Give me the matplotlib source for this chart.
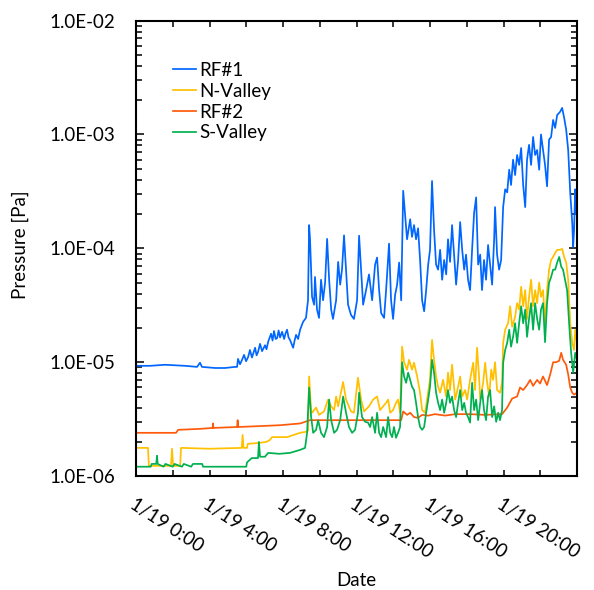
import matplotlib
matplotlib.use("Agg")
import matplotlib.pyplot as plt
from matplotlib.ticker import LogLocator, FuncFormatter, NullFormatter

# readings: (hours after 1/19 0:00, pressure in Pa)
rf1 = [
    (0.00, 9.3e-6), (0.76, 9.3e-6), (1.58, 9.5e-6), (2.67, 9.3e-6), (3.32, 9.1e-6),
    (3.48, 9.9e-6), (3.59, 9.1e-6), (4.30, 8.9e-6), (4.84, 8.9e-6), (5.39, 9.1e-6),
    (5.50, 9.1e-6), (5.55, 1.07e-5), (5.66, 9.6e-6), (5.77, 1.05e-5), (5.88, 1.16e-5),
    (5.99, 1.02e-5), (6.10, 1.11e-5), (6.20, 1.28e-5), (6.31, 1.1e-5), (6.48, 1.34e-5),
    (6.56, 1.15e-5), (6.64, 1.23e-5), (6.75, 1.45e-5), (6.86, 1.25e-5), (7.02, 1.41e-5),
    (7.10, 1.3e-5), (7.19, 1.51e-5), (7.35, 1.78e-5), (7.43, 1.55e-5), (7.51, 1.88e-5),
    (7.60, 1.6e-5), (7.68, 1.63e-5), (7.76, 1.9e-5), (7.84, 1.65e-5), (7.95, 1.85e-5),
    (8.06, 1.6e-5), (8.14, 1.8e-5), (8.22, 1.93e-5), (8.30, 1.65e-5), (8.38, 1.57e-5),
    (8.55, 1.34e-5), (8.63, 1.55e-5), (8.71, 1.74e-5), (8.82, 1.6e-5), (8.93, 1.93e-5),
    (9.09, 2.26e-5), (9.25, 2.45e-5), (9.36, 3.5e-5), (9.42, 1.6e-4),
    (9.47, 1.2e-4), (9.58, 3.75e-5), (9.69, 3.2e-5), (9.74, 5.6e-5), (9.85, 2.9e-5),
    (9.96, 2.45e-5), (10.07, 5.3e-5), (10.18, 3.5e-5), (10.29, 5.0e-5), (10.40, 1.21e-4),
    (10.51, 5.3e-5), (10.62, 2.9e-5), (10.72, 2.4e-5), (10.89, 3.5e-5), (11.00, 7.6e-5),
    (11.11, 4.8e-5), (11.21, 6.5e-5), (11.32, 1.3e-4), (11.43, 6.5e-5), (11.54, 3.2e-5),
    (11.70, 2.6e-5), (11.86, 2.4e-5), (12.03, 3.5e-5), (12.14, 1.29e-4), (12.25, 6.5e-5),
    (12.36, 3.2e-5), (12.52, 4.3e-5), (12.68, 5.9e-5), (12.85, 3.5e-5), (13.01, 7.2e-5),
    (13.12, 8.3e-5), (13.23, 4.3e-5), (13.34, 2.7e-5), (13.50, 2.45e-5), (13.61, 4.3e-5),
    (13.72, 8.4e-5), (13.77, 1.1e-4), (13.88, 3.5e-5), (13.99, 2.4e-5), (14.10, 3.9e-5),
    (14.21, 4.8e-5), (14.32, 7.5e-5), (14.43, 3.5e-5), (14.54, 3.2e-4), (14.64, 2.0e-4),
    (14.75, 1.2e-4), (14.92, 1.8e-4), (15.02, 1.26e-4), (15.13, 1.6e-4), (15.24, 1.2e-4),
    (15.35, 1.5e-4), (15.46, 7.9e-5), (15.57, 3.5e-5), (15.68, 2.8e-5), (15.79, 4.3e-5),
    (15.90, 7.2e-5), (16.00, 9.7e-5), (16.11, 3.9e-4), (16.22, 1.45e-4), (16.33, 7.2e-5),
    (16.44, 6.5e-5), (16.55, 9.7e-5), (16.66, 5.3e-5), (16.77, 7.9e-5), (16.88, 5.9e-5),
    (16.98, 1.2e-4), (17.09, 7.6e-5), (17.20, 1.6e-4), (17.31, 8.8e-5), (17.42, 4.8e-5),
    (17.53, 7.9e-5), (17.64, 1.7e-4), (17.75, 9.7e-5), (17.86, 6.5e-5), (17.96, 8.8e-5),
    (18.07, 5.3e-5), (18.18, 4.3e-5), (18.29, 9.7e-5), (18.40, 2.05e-4), (18.51, 2.8e-4),
    (18.62, 7.2e-5), (18.73, 8.8e-5), (18.83, 4.3e-5), (18.94, 7.9e-5), (19.05, 5.3e-5),
    (19.16, 1.07e-4), (19.27, 7.2e-5), (19.38, 4.8e-5), (19.49, 1.2e-4), (19.54, 2.3e-4),
    (19.65, 8.8e-5), (19.76, 6.5e-5), (19.87, 7.9e-5), (19.98, 2.3e-4), (20.09, 3.3e-4),
    (20.20, 3.1e-4), (20.31, 4.9e-4), (20.41, 3.6e-4), (20.52, 6.0e-4), (20.63, 4.4e-4),
    (20.74, 6.6e-4), (20.85, 5.4e-4), (20.96, 7.6e-4), (21.07, 3.6e-4), (21.18, 2.3e-4),
    (21.28, 6.0e-4), (21.39, 8.1e-4), (21.50, 5.4e-4), (21.61, 9.5e-4), (21.72, 6.6e-4),
    (21.83, 7.3e-4), (21.94, 4.9e-4), (22.04, 1.0e-3), (22.15, 7.3e-4), (22.26, 5.4e-4),
    (22.37, 3.5e-4), (22.48, 9.0e-4), (22.59, 9.5e-4), (22.70, 1.34e-3), (22.81, 1.14e-3),
    (22.92, 1.48e-3), (23.08, 1.58e-3), (23.19, 1.71e-3), (23.30, 1.40e-3), (23.41, 1.10e-3),
    (23.52, 7.3e-4), (23.63, 3.1e-4), (23.74, 1.67e-4), (23.79, 1.03e-4), (23.84, 1.45e-4),
    (23.90, 3.3e-4), (23.95, 2.0e-4), (24.00, 3.1e-4),
]

n_valley = [
    (0.00, 1.77e-6), (0.65, 1.77e-6), (0.70, 1.23e-6), (1.90, 1.23e-6), (1.96, 1.74e-6),
    (2.02, 1.23e-6), (2.40, 1.23e-6), (2.45, 1.77e-6), (4.00, 1.74e-6), (5.75, 1.77e-6),
    (5.80, 2.3e-6), (5.85, 1.77e-6), (6.04, 1.77e-6), (6.08, 1.92e-6), (6.75, 1.96e-6),
    (7.10, 2.0e-6), (7.29, 2.08e-6), (7.40, 2.2e-6), (8.22, 2.2e-6), (8.93, 2.4e-6),
    (9.25, 2.45e-6), (9.36, 2.5e-6), (9.42, 7.5e-6), (9.53, 3.8e-6), (9.58, 3.6e-6),
    (9.80, 4.0e-6), (9.96, 3.45e-6), (10.23, 3.7e-6), (10.45, 4.7e-6), (10.62, 4.1e-6),
    (10.78, 3.8e-6), (10.89, 5.0e-6), (11.00, 4.1e-6), (11.27, 6.7e-6), (11.43, 4.7e-6),
    (11.70, 3.7e-6), (11.86, 3.6e-6), (12.08, 7.3e-6), (12.25, 4.7e-6), (12.41, 3.7e-6),
    (12.68, 4.1e-6), (12.90, 4.7e-6), (13.12, 5.0e-6), (13.28, 3.8e-6), (13.45, 4.1e-6),
    (13.61, 4.4e-6), (13.72, 4.7e-6), (13.83, 3.6e-6), (13.99, 3.8e-6), (14.15, 4.4e-6),
    (14.26, 4.7e-6), (14.37, 3.6e-6), (14.48, 1.37e-5), (14.59, 1.0e-5), (14.75, 8.6e-6),
    (14.86, 1.05e-5), (15.02, 8.6e-6), (15.13, 9.9e-6), (15.30, 7.5e-6), (15.46, 5.4e-6),
    (15.57, 3.8e-6), (15.73, 3.6e-6), (15.84, 4.7e-6), (16.00, 7.0e-6), (16.11, 1.57e-5),
    (16.22, 1.05e-5), (16.33, 7.5e-6), (16.44, 6.1e-6), (16.55, 5.4e-6), (16.71, 7.0e-6),
    (16.88, 5.0e-6), (16.98, 8.1e-6), (17.09, 5.7e-6), (17.20, 9.5e-6), (17.37, 4.7e-6),
    (17.53, 6.1e-6), (17.64, 7.5e-6), (17.75, 5.0e-6), (17.91, 5.7e-6), (18.02, 4.7e-6),
    (18.18, 7.0e-6), (18.35, 9.9e-6), (18.45, 5.7e-6), (18.56, 1.34e-5), (18.67, 7.5e-6),
    (18.73, 4.7e-6), (18.89, 6.6e-6), (19.00, 9.9e-6), (19.11, 6.6e-6), (19.22, 5.0e-6),
    (19.33, 8.6e-6), (19.43, 7.0e-6), (19.54, 1.0e-5), (19.65, 5.7e-6), (19.81, 5.4e-6),
    (19.92, 6.6e-6), (19.98, 1.48e-5), (20.09, 1.93e-5), (20.25, 2.2e-5), (20.36, 3.1e-5),
    (20.47, 2.05e-5), (20.63, 2.5e-5), (20.74, 3.3e-5), (20.85, 2.9e-5), (20.96, 4.6e-5),
    (21.07, 3.1e-5), (21.18, 4.3e-5), (21.28, 2.4e-5), (21.39, 3.75e-5), (21.50, 5.3e-5),
    (21.61, 3.1e-5), (21.72, 4.3e-5), (21.83, 3.3e-5), (21.94, 5.0e-5), (22.04, 3.75e-5),
    (22.15, 4.3e-5), (22.26, 2.2e-5), (22.37, 4.3e-5), (22.48, 6.5e-5), (22.59, 7.9e-5),
    (22.70, 8.4e-5), (22.81, 9.1e-5), (22.92, 9.7e-5), (23.08, 9.7e-5), (23.19, 9.9e-5),
    (23.30, 8.4e-5), (23.41, 7.5e-5), (23.52, 5.3e-5), (23.63, 2.2e-5), (23.74, 1.48e-5),
    (23.84, 1.28e-5), (23.90, 1.93e-5), (24.00, 1.48e-5),
]

rf2 = [
    (0.00, 2.4e-6), (2.18, 2.4e-6), (2.29, 2.55e-6), (3.48, 2.6e-6), (4.17, 2.65e-6),
    (4.19, 2.9e-6), (4.21, 2.65e-6), (5.50, 2.7e-6), (5.53, 3.1e-6), (5.56, 2.7e-6),
    (6.75, 2.75e-6), (7.84, 2.8e-6), (8.93, 2.9e-6), (9.47, 3.1e-6), (11.65, 3.1e-6),
    (13.28, 3.1e-6), (14.43, 3.1e-6), (14.54, 3.7e-6), (14.75, 3.45e-6), (14.92, 3.6e-6),
    (15.13, 3.3e-6), (15.35, 3.25e-6), (15.57, 3.45e-6), (15.90, 3.4e-6), (16.27, 3.5e-6),
    (16.82, 3.4e-6), (17.37, 3.5e-6), (18.18, 3.5e-6), (19.00, 3.45e-6), (19.92, 3.5e-6),
    (20.20, 4.0e-6), (20.47, 4.8e-6), (20.74, 5.0e-6), (20.90, 6.0e-6), (21.07, 5.7e-6),
    (21.28, 6.3e-6), (21.45, 7.0e-6), (21.61, 6.2e-6), (21.83, 7.0e-6), (21.99, 6.5e-6),
    (22.15, 7.5e-6), (22.37, 6.3e-6), (22.54, 7.8e-6), (22.70, 1.0e-5), (22.86, 1.0e-5),
    (23.03, 1.03e-5), (23.14, 1.21e-5), (23.24, 1.05e-5), (23.41, 9.5e-6), (23.52, 7.8e-6),
    (23.63, 6.0e-6), (23.74, 5.4e-6), (23.84, 5.2e-6), (24.00, 5.4e-6),
]

s_valley = [
    (0.00, 1.21e-6), (0.80, 1.21e-6), (0.85, 1.28e-6), (1.10, 1.28e-6), (1.14, 1.51e-6),
    (1.18, 1.28e-6), (1.50, 1.21e-6), (1.60, 1.28e-6), (2.00, 1.21e-6), (2.10, 1.28e-6),
    (2.50, 1.21e-6), (2.60, 1.28e-6), (3.00, 1.21e-6), (3.10, 1.28e-6), (3.60, 1.28e-6),
    (3.65, 1.21e-6), (6.00, 1.21e-6), (6.04, 1.32e-6), (6.30, 1.44e-6), (6.64, 1.44e-6),
    (6.69, 2.0e-6), (6.75, 1.48e-6), (7.02, 1.48e-6), (7.19, 1.60e-6), (7.80, 1.57e-6),
    (8.38, 1.60e-6), (8.93, 1.70e-6), (9.20, 1.77e-6), (9.31, 2.4e-6), (9.42, 6.0e-6),
    (9.53, 3.3e-6), (9.64, 2.4e-6), (9.80, 2.55e-6), (9.91, 3.1e-6), (10.07, 2.4e-6),
    (10.23, 2.2e-6), (10.40, 2.7e-6), (10.51, 4.7e-6), (10.62, 3.1e-6), (10.78, 2.4e-6),
    (10.94, 2.55e-6), (11.11, 3.1e-6), (11.27, 5.0e-6), (11.43, 3.6e-6), (11.59, 2.7e-6),
    (11.76, 2.4e-6), (11.92, 2.55e-6), (12.08, 3.6e-6), (12.14, 5.4e-6), (12.30, 3.3e-6),
    (12.47, 3.0e-6), (12.63, 2.95e-6), (12.74, 2.7e-6), (12.85, 3.3e-6), (13.01, 2.4e-6),
    (13.12, 3.6e-6), (13.23, 2.4e-6), (13.34, 2.2e-6), (13.45, 2.7e-6), (13.61, 2.2e-6),
    (13.72, 3.3e-6), (13.83, 2.4e-6), (13.94, 2.2e-6), (14.04, 2.7e-6), (14.15, 2.17e-6),
    (14.26, 2.4e-6), (14.37, 2.7e-6), (14.48, 1.0e-5), (14.59, 7.5e-6), (14.70, 6.6e-6),
    (14.81, 8.1e-6), (14.92, 7.0e-6), (15.02, 6.1e-6), (15.13, 5.7e-6), (15.24, 4.4e-6),
    (15.35, 3.3e-6), (15.46, 2.7e-6), (15.57, 2.55e-6), (15.68, 2.7e-6), (15.79, 3.6e-6),
    (15.90, 4.7e-6), (16.00, 6.1e-6), (16.11, 1.05e-5), (16.22, 8.1e-6), (16.33, 5.4e-6),
    (16.44, 4.4e-6), (16.55, 3.8e-6), (16.66, 4.7e-6), (16.77, 3.6e-6), (16.88, 4.4e-6),
    (16.98, 5.7e-6), (17.09, 4.4e-6), (17.20, 5.0e-6), (17.31, 3.8e-6), (17.42, 3.3e-6),
    (17.53, 4.4e-6), (17.64, 5.7e-6), (17.75, 3.8e-6), (17.86, 4.4e-6), (17.96, 3.6e-6),
    (18.07, 3.3e-6), (18.18, 2.95e-6), (18.29, 6.6e-6), (18.40, 3.8e-6), (18.51, 4.7e-6),
    (18.62, 3.1e-6), (18.73, 4.4e-6), (18.83, 5.7e-6), (18.94, 3.8e-6), (19.05, 3.1e-6),
    (19.16, 5.0e-6), (19.27, 5.7e-6), (19.38, 3.3e-6), (19.49, 4.1e-6), (19.60, 3.0e-6),
    (19.71, 3.6e-6), (19.81, 3.1e-6), (19.92, 3.8e-6), (19.98, 9.9e-6), (20.09, 1.28e-5),
    (20.20, 1.48e-5), (20.31, 1.93e-5), (20.41, 1.37e-5), (20.52, 1.67e-5), (20.63, 2.2e-5),
    (20.74, 1.48e-5), (20.85, 2.2e-5), (20.96, 3.1e-5), (21.07, 2.2e-5), (21.18, 2.9e-5),
    (21.28, 1.67e-5), (21.39, 2.4e-5), (21.50, 3.3e-5), (21.61, 1.93e-5), (21.72, 3.3e-5),
    (21.83, 2.4e-5), (21.94, 1.93e-5), (22.04, 2.9e-5), (22.15, 3.3e-5), (22.26, 1.5e-5),
    (22.37, 3.3e-5), (22.48, 5.0e-5), (22.59, 5.6e-5), (22.70, 6.5e-5), (22.81, 6.5e-5),
    (22.92, 7.5e-5), (23.03, 8.4e-5), (23.14, 6.9e-5), (23.24, 6.5e-5), (23.35, 5.3e-5),
    (23.46, 4.3e-5), (23.57, 2.2e-5), (23.68, 1.21e-5), (23.79, 8.1e-6), (23.90, 1.21e-5),
    (24.00, 1.05e-5),
]

series_names = ["RF#1", "N-Valley", "RF#2", "S-Valley"]
series_colors = ["#0066FF", "#FFC000", "#FF5A0A", "#00B050"]

label_hours = [0, 4, 8, 12, 16, 20]
label_text = ["1/19 0:00", "1/19 4:00", "1/19 8:00", "1/19 12:00", "1/19 16:00", "1/19 20:00"]
minor_hours = [2, 6, 10, 14, 18, 22]

plt.rcParams["font.family"] = ["Lato", "DejaVu Sans"]
plt.rcParams["font.size"] = 13.5

fig = plt.figure(figsize=(5.94, 5.90), dpi=100)
ax = fig.add_axes([0.229, 0.193, 0.7424, 0.7722])

for data, name, color in zip([rf1, n_valley, rf2, s_valley], series_names, series_colors):
    hours, pa = zip(*data)
    ax.plot(hours, pa, color=color, lw=1.25, label=name)

ax.set_yscale("log")
ax.set_ylim(1e-6, 1e-2)
ax.set_xlim(0, 24)

ax.yaxis.set_major_locator(LogLocator(base=10, numticks=10))
ax.yaxis.set_minor_locator(LogLocator(base=10, subs=range(2, 10), numticks=20))
ax.yaxis.set_major_formatter(FuncFormatter(lambda v, pos: f"{v:.1E}"))
ax.yaxis.set_minor_formatter(NullFormatter())

ax.set_xticks(label_hours, label_text, rotation=-33, ha="left", va="top",
              rotation_mode="anchor")
ax.set_xticks(minor_hours, minor=True)

for s in ax.spines.values():
    s.set_linewidth(1.5)
ax.tick_params(axis="both", which="both", direction="in", top=True, right=True, width=1.1)
ax.tick_params(axis="y", which="major", length=6, pad=15)
ax.tick_params(axis="y", which="minor", length=4)
ax.tick_params(axis="x", which="both", length=4)
ax.tick_params(axis="x", which="major", pad=14)

ax.set_ylabel("Pressure [Pa]")
ax.yaxis.set_label_coords(-0.263, 0.507)
ax.yaxis.label.set_va("center")
ax.set_xlabel("Date")
ax.xaxis.set_label_coords(0.499, -0.230)
ax.xaxis.label.set_va("center")

ax.legend(loc="upper left", bbox_to_anchor=(173 / 594, 1 - 62 / 590),
          bbox_transform=fig.transFigure, frameon=False, borderpad=0,
          borderaxespad=0, handlelength=1.25, handletextpad=0.15, labelspacing=0.2)

fig.savefig("out.png", dpi=100)
